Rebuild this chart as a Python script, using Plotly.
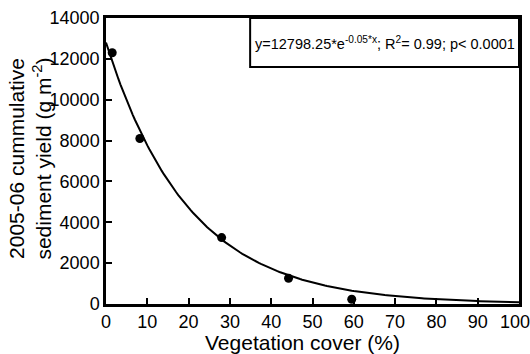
import numpy as np
import plotly.graph_objects as go

# Observed cumulative sediment yield vs. vegetation cover
veg_cover = [1.5, 8.2, 28.0, 44.2, 59.5]
sediment_yield = [12300, 8100, 3250, 1260, 230]

# Exponential fit y = a * exp(b * x)
fit_a = 12798.25
fit_b = -0.05
fit_x = np.linspace(0, 100, 201)
fit_y = fit_a * np.exp(fit_b * fit_x)

x_ticks = list(range(0, 101, 10))
x_labels = [str(v) for v in x_ticks]
y_ticks = list(range(0, 14001, 2000))
y_labels = [str(v) for v in y_ticks]

tick_font = dict(family="Liberation Sans Narrow, Arial Narrow, Arial", size=18, color="black")
title_font = dict(family="Arial, Liberation Sans", size=21, color="black")

fig = go.Figure()
fig.add_trace(go.Scatter(x=fit_x, y=fit_y, mode="lines",
                         line=dict(color="black", width=2), hoverinfo="skip"))
fig.add_trace(go.Scatter(x=veg_cover, y=sediment_yield, mode="markers",
                         marker=dict(color="black", size=9)))

# The last x label sits at the right canvas edge, so it is drawn right-aligned separately
axis_x_text = x_labels[:-1] + [""]

fig.update_layout(
    width=530, height=354,
    margin=dict(l=106, r=8, t=10, b=50),
    plot_bgcolor="white", paper_bgcolor="white",
    showlegend=False,
    xaxis=dict(range=[0, 100], tickmode="array", tickvals=x_ticks, ticktext=axis_x_text,
               ticks="inside", ticklen=6, tickwidth=2,
               tickcolor="black", showline=True, linewidth=2.5, linecolor="black",
               mirror=True, showgrid=False, zeroline=False, tickfont=tick_font),
    yaxis=dict(range=[0, 14000], tickmode="array", tickvals=y_ticks, ticktext=y_labels,
               ticks="inside", ticklen=6, tickwidth=2,
               tickcolor="black", showline=True, linewidth=2.5, linecolor="black",
               mirror=True, showgrid=False, zeroline=False, tickfont=tick_font),
)

fig.add_annotation(xref="x", yref="paper", x=x_ticks[-1], y=-(322 - 304) / 294,
                   showarrow=False, text=x_labels[-1], font=tick_font,
                   xanchor="center", yanchor="middle", xshift=-4.5)

# Equation box in the upper right corner
fig.add_shape(type="rect", xref="x", yref="y", x0=34.9, x1=100, y0=11600, y1=14000,
              line=dict(color="black", width=2), fillcolor="white")
fig.add_annotation(xref="x", yref="y", x=67.5, y=12800, showarrow=False,
                   text="y=12798.25*e<sup>-0.05*x</sup>; R<sup>2</sup>= 0.99; p< 0.0001",
                   font=dict(family="Liberation Sans Narrow, Arial Narrow, Arial", size=14.5, color="black"))

# Axis titles
fig.add_annotation(xref="paper", yref="paper", x=(304 - 106) / 416, y=-(344 - 304) / 294,
                   showarrow=False, text="Vegetation cover (%)", font=title_font,
                   xanchor="center", yanchor="middle")
fig.add_annotation(xref="paper", yref="paper", x=(29 - 106) / 416, y=(304 - 155) / 294,
                   showarrow=False, textangle=-90,
                   text="2005-06 cummulative<br>sediment yield (g m<sup>-2</sup>)",
                   font=title_font, xanchor="center", yanchor="middle")

fig.write_html("out.html")
